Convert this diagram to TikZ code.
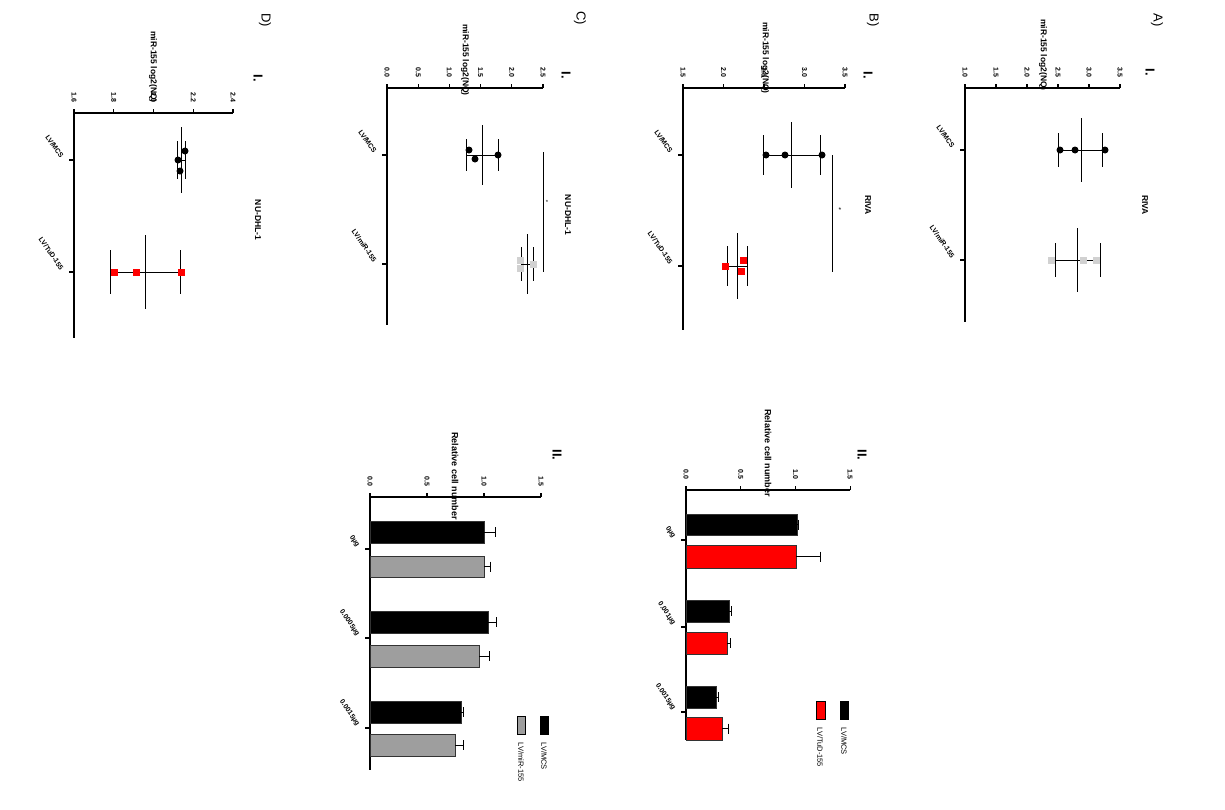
\documentclass[tikz,border=0pt]{standalone}
\usepackage{fontspec}
\setmainfont{Liberation Sans}
\begin{document}
\begin{tikzpicture}[x=1pt,y=-1pt,
  ax/.style={line width=1.2pt},
  eb/.style={line width=1pt},
  tl/.style={font=\bfseries\fontsize{7}{8}\selectfont,rotate=-90,anchor=east},
  ttl/.style={font=\bfseries\fontsize{8.5}{9}\selectfont,rotate=-90},
  cat/.style={font=\bfseries\fontsize{7}{8}\selectfont,rotate=-55,anchor=east},
  big/.style={font=\fontsize{13}{14}\selectfont,rotate=-90},
  bigb/.style={font=\bfseries\fontsize{13}{14}\selectfont,rotate=-90},
  cell/.style={font=\bfseries\fontsize{9}{10}\selectfont,rotate=-90},
  leg/.style={font=\fontsize{7.5}{8}\selectfont,rotate=-90,anchor=east},
  dotb/.style={circle,fill=black,inner sep=0pt,minimum size=7pt},
  sqg/.style={fill=black!18,inner sep=0pt,minimum size=7pt},
  sqr/.style={fill=red,inner sep=0pt,minimum size=7pt}]
\useasboundingbox[fill=white] (0,0) rectangle (1225,809);

\newcommand{\valaxis}[4]{%
  \foreach \v [count=\i from 0] in {#4} {
    \draw[ax] ({#2+\i*#3},#1) -- ({#2+\i*#3},#1-4);
    \node[tl] at ({#2+\i*#3},#1-7) {\v};
  }}
\newcommand{\errbar}[6]{%
  \draw[eb] (#2,#1-#5) -- (#2,#1+#5);
  \draw[eb] (#3,#1-#6) -- (#3,#1+#6);
  \draw[eb] (#4,#1-#6) -- (#4,#1+#6);
  \draw[eb] (#3,#1) -- (#4,#1);}
\newcommand{\mybarh}[6]{% x0,y1,y2,x,err,colour
  \draw[fill=#6,draw=black!80] (#1,#2) rectangle (#4,#3);
  \draw[eb] (#4,{(#2+#3)/2}) -- (#5,{(#2+#3)/2});
  \draw[eb] (#5,{(#2+#3)/2-5}) -- (#5,{(#2+#3)/2+5});}

%%%%% Panel A
\node[big] (A) at (1157,20) {A)};
\node[bigb] (AI) at (1150,72) {I.};
\node[ttl] (Atit) at (1043,55) {miR-155 log2(NQ)};
\node[ttl] (Ariva) at (1145,205) {RIVA};
\draw[ax] (965,88) -- (1120,88);
\draw[ax] (965,88) -- (965,322);
\valaxis{88}{965}{31}{1.0,1.5,2.0,2.5,3.0,3.5}
\draw[ax] (965,150) -- (960,150); \draw[ax] (965,260) -- (960,260);
\node[cat] at (955,150) {LV/MCS};
\node[cat] at (955,260) {LV/miR-155};
\errbar{150}{1081}{1058}{1102}{32}{17}
\node[dotb] at (1060,150) {}; \node[dotb] at (1075,150) {}; \node[dotb] at (1105,150) {};
\errbar{260}{1077}{1055}{1100}{32}{17}
\node[sqg] at (1051,260) {}; \node[sqg] at (1083,260) {}; \node[sqg] at (1096,260) {};

%%%%% Panel B
\node[big] (B) at (873,20) {B)};
\node[bigb] (BI) at (868,75) {I.};
\node[ttl] (Btit) at (765,58) {miR-155 log2(NQ)};
\node[ttl] (Briva) at (868,205) {RIVA};
\draw[ax] (683,88) -- (845,88);
\draw[ax] (683,88) -- (683,330);
\valaxis{88}{683}{40.5}{1.5,2.0,2.5,3.0,3.5}
\draw[ax] (683,155) -- (678,155); \draw[ax] (683,266) -- (678,266);
\node[cat] at (673,155) {LV/MCS};
\node[cat] at (673,266) {LV/TuD-155};
\errbar{155}{791}{763}{820}{33}{20}
\node[dotb] at (766,155) {}; \node[dotb] at (785,155) {}; \node[dotb] at (822,155) {};
\errbar{266}{737}{727}{747}{33}{20}
\node[sqr] at (725,266) {}; \node[sqr] at (743,260) {}; \node[sqr] at (741,271) {};
\draw (832,155) -- (832,272);
\node[font=\fontsize{7}{8}\selectfont] at (840,210) {*};

%%%%% Panel C
\node[big] (C) at (580,18) {C)};
\node[bigb] (CI) at (566,75) {I.};
\node[ttl] (Ctit) at (465,60) {miR-155 log2(NQ)};
\node[ttl] (Cn) at (568,215) {NU-DHL-1};
\draw[ax] (387,88) -- (543,88);
\draw[ax] (387,88) -- (387,325);
\valaxis{88}{387}{31.2}{0.0,0.5,1.0,1.5,2.0,2.5}
\draw[ax] (387,155) -- (382,155); \draw[ax] (387,264) -- (382,264);
\node[cat] at (377,155) {LV/MCS};
\node[cat] at (377,264) {LV/miR-155};
\errbar{155}{482}{466}{498}{30}{16}
\node[dotb] at (469,150) {}; \node[dotb] at (475,159) {}; \node[dotb] at (498,155) {};
\errbar{264}{527}{521}{533}{30}{17}
\node[sqg] at (520,260) {}; \node[sqg] at (520,268) {}; \node[sqg] at (533,264) {};
\draw (543,152) -- (543,272);
\node[font=\fontsize{6}{7}\selectfont] at (547,202) {*};

%%%%% Panel D
\node[big] (D) at (265,20) {D)};
\node[bigb] (DI) at (258,78) {I.};
\node[ttl] (Dtit) at (153,67) {miR-155 log2(NQ)};
\node[ttl] (Dn) at (258,220) {NU-DHL-1};
\draw[ax] (74,113) -- (233,113);
\draw[ax] (74,113) -- (74,338);
\valaxis{113}{74}{39.75}{1.6,1.8,2.0,2.2,2.4}
\draw[ax] (74,160) -- (69,160); \draw[ax] (74,272) -- (69,272);
\node[cat] at (64,160) {LV/MCS};
\node[cat] at (64,272) {LV/TuD-155};
\errbar{160}{181}{177}{185}{33}{19}
\node[dotb] at (178,160) {}; \node[dotb] at (180,171) {}; \node[dotb] at (185,151) {};
\errbar{272}{145}{110}{180}{37}{22}
\node[sqr] at (114,272) {}; \node[sqr] at (136,272) {}; \node[sqr] at (181,272) {};

%%%%% Panel B II
\node[bigb] (BII) at (862,455) {II.};
\node[cell] (Bct) at (768,453) {Relative cell number};
\draw[ax] (686,490) -- (850,490);
\draw[ax] (686,490) -- (686,740);
\valaxis{490}{686}{54.7}{0.0,0.5,1.0,1.5}
\foreach \t/\lab in {540/0µg/mL,627/0.001µg/mL,712/0.0015µg/mL}{
  \draw[ax] (686,\t) -- (681,\t);
  \node[cat] at (676,\t) {\lab};}
\mybarh{686}{514}{535}{797}{798}{black}
\mybarh{686}{545}{568}{796}{820}{red}
\mybarh{686}{600}{622}{729}{731}{black}
\mybarh{686}{632}{654}{727}{730}{red}
\mybarh{686}{686}{708}{716}{718}{black}
\mybarh{686}{717}{740}{722}{728}{red}
\draw[fill=black] (840,701) rectangle (848,719);
\draw[fill=red] (816,701) rectangle (825,719);
\node[leg,anchor=west] at (844,724) {LV/MCS};
\node[leg,anchor=west] at (820,724) {LV/TuD-155};

%%%%% Panel C II
\node[bigb] (CII) at (557,455) {II.};
\node[cell] (Cct) at (455,476) {Relative cell number};
\draw[ax] (370,497) -- (541,497);
\draw[ax] (370,497) -- (370,770);
\valaxis{497}{370}{57}{0.0,0.5,1.0,1.5}
\foreach \t/\lab in {549/0µg/mL,638/0.0005µg/mL,728/0.0015µg/mL}{
  \draw[ax] (370,\t) -- (365,\t);
  \node[cat] at (360,\t) {\lab};}
\mybarh{370}{521}{543}{484}{495}{black}
\mybarh{370}{556}{577}{484}{490}{black!38}
\mybarh{370}{611}{633}{488}{496}{black}
\mybarh{370}{645}{667}{479}{489}{black!38}
\mybarh{370}{701}{723}{461}{463}{black}
\mybarh{370}{734}{756}{455}{463}{black!38}
\draw[fill=black] (540,716) rectangle (548,734);
\draw[fill=black!38] (517,716) rectangle (525,734);
\node[leg,anchor=west] at (544,739) {LV/MCS};
\node[leg,anchor=west] at (521,739) {LV/miR-155};
\end{tikzpicture}
\end{document}
